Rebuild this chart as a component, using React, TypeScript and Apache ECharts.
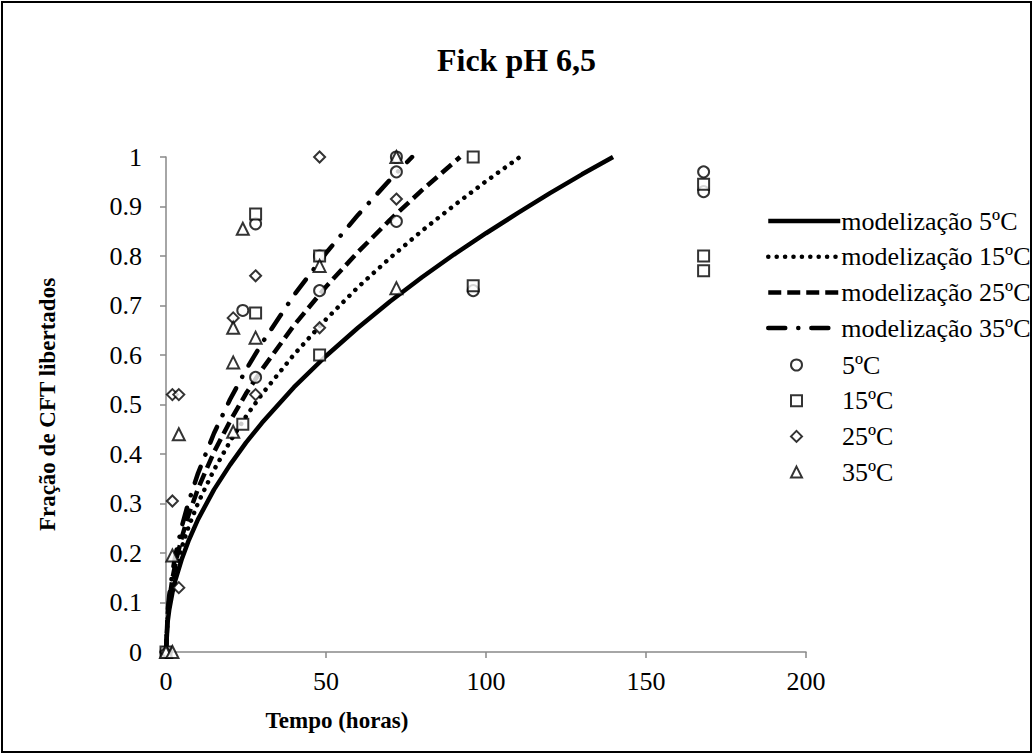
import React, { useEffect, useRef } from "react";
import * as echarts from "echarts";

// Model curves: time (h) and released fraction
const t5 = [0, 0.5, 1, 2, 3, 5, 7, 10, 15, 20, 25, 30, 40, 50, 60, 70, 80, 90, 100, 110, 120, 130, 139.7];
const m5 = [0, 0.06, 0.085, 0.12, 0.147, 0.189, 0.224, 0.268, 0.328, 0.378, 0.423, 0.463, 0.535, 0.598, 0.655, 0.708, 0.757, 0.803, 0.846, 0.887, 0.927, 0.965, 1.0];
const t15 = [0, 0.5, 1, 2, 3, 5, 7, 10, 15, 20, 25, 30, 40, 50, 60, 70, 80, 90, 100, 110.6];
const m15 = [0, 0.067, 0.095, 0.134, 0.165, 0.213, 0.252, 0.301, 0.368, 0.425, 0.476, 0.521, 0.601, 0.672, 0.737, 0.796, 0.851, 0.902, 0.951, 1.0];
const t25 = [0, 0.5, 1, 2, 3, 5, 7, 10, 15, 20, 25, 30, 40, 50, 60, 70, 80, 91.9];
const m25 = [0, 0.074, 0.104, 0.148, 0.181, 0.233, 0.276, 0.33, 0.404, 0.466, 0.522, 0.571, 0.66, 0.738, 0.808, 0.873, 0.933, 1.0];
const t35 = [0, 0.5, 1, 2, 3, 5, 7, 10, 15, 20, 25, 30, 40, 50, 60, 70, 76.9];
const m35 = [0, 0.081, 0.114, 0.161, 0.197, 0.255, 0.302, 0.361, 0.442, 0.51, 0.57, 0.624, 0.721, 0.806, 0.883, 0.954, 1.0];

// Experimental points
const x5 = [0, 24, 28, 28, 48, 48, 72, 72, 72, 96, 168, 168];
const y5 = [0, 0.69, 0.865, 0.555, 0.73, 0.8, 1.0, 0.97, 0.87, 0.73, 0.97, 0.93];
const x15 = [0, 24, 28, 28, 48, 48, 96, 96, 168, 168, 168];
const y15 = [0, 0.46, 0.885, 0.685, 0.8, 0.6, 1.0, 0.74, 0.945, 0.8, 0.77];
const x25 = [0, 2, 2, 4, 4, 21, 28, 28, 48, 48, 72];
const y25 = [0, 0.305, 0.52, 0.52, 0.13, 0.675, 0.76, 0.52, 1.0, 0.655, 0.915];
const x35 = [0, 2, 2, 4, 21, 21, 21, 24, 28, 48, 72, 72];
const y35 = [0, 0, 0.195, 0.44, 0.585, 0.655, 0.445, 0.855, 0.635, 0.78, 1.0, 0.735];

const modelNames = ["modelização 5ºC", "modelização 15ºC", "modelização 25ºC", "modelização 35ºC"];
const pointNames = ["5ºC", "15ºC", "25ºC", "35ºC"];
const xTicks = [0, 50, 100, 150, 200];

const FONT = "Liberation Serif";

const zip = (a: number[], b: number[]) => a.map((v, i) => [v, b[i]]);

export default function App() {
  const ref = useRef<HTMLDivElement>(null);
  useEffect(() => {
    if (!ref.current) return;
    const chart = echarts.init(ref.current, undefined, { renderer: "svg" });
    const lineStyles: any[] = [
      { color: "#000", width: 4.5, type: "solid", cap: "butt" },
      { color: "#000", width: 4.5, type: [0.1, 8.3], cap: "round" },
      { color: "#000", width: 4.5, type: [13, 6], cap: "butt" },
      { color: "#000", width: 4.5, type: [17, 13, 0.1, 13], cap: "round" },
    ];
    const modelData = [zip(t5, m5), zip(t15, m15), zip(t25, m25), zip(t35, m35)];
    const ptData = [zip(x5, y5), zip(x15, y15), zip(x25, y25), zip(x35, y35)];
    const symbols = ["emptyCircle", "emptyRect", "emptyDiamond", "emptyTriangle"];
    const sizes = [11, 11, 11, 12];
    const series: any[] = [];
    modelNames.forEach((n, i) => {
      series.push({
        name: n,
        type: "line",
        data: modelData[i],
        symbol: "none",
        smooth: false,
        lineStyle: lineStyles[i],
        itemStyle: { color: "#000", opacity: 0 },
        z: 3,
      });
    });
    pointNames.forEach((n, i) => {
      series.push({
        name: n,
        type: "scatter",
        data: ptData[i],
        symbol: symbols[i],
        symbolSize: sizes[i],
        itemStyle: { color: "#000", borderColor: "#000", borderWidth: 1.5 },
        z: 4,
      });
    });
    const legendText = { fontFamily: FONT, fontSize: 26, color: "#000", lineHeight: 26 };
    chart.setOption({
      animation: false,
      backgroundColor: "#fff",
      textStyle: { fontFamily: FONT, color: "#000" },
      title: {
        text: "Fick pH 6,5",
        left: "center",
        top: 39,
        textStyle: { fontFamily: FONT, fontSize: 32, fontWeight: "bold", color: "#000" },
      },
      grid: { left: 166, right: 227, top: 157, bottom: 103, containLabel: false },
      legend: [
        {
          orient: "vertical",
          left: 761,
          top: 203,
          itemWidth: 72,
          itemHeight: 9,
          itemGap: 9.7,
          data: modelNames.map((n, i) => ({
            name: n,
            itemStyle: { opacity: 0 },
            lineStyle: lineStyles[i],
          })),
          textStyle: { ...legendText, padding: [0, 0, 0, -4] },
        },
        {
          orient: "vertical",
          left: 785,
          top: 347,
          itemWidth: 11,
          itemHeight: 11,
          itemGap: 9.7,
          data: pointNames.map((n, i) => ({ name: n, icon: symbols[i] })),
          textStyle: { ...legendText, padding: [0, 0, 0, 35] },
        },
      ],
      xAxis: {
        type: "value",
        min: xTicks[0],
        max: xTicks[xTicks.length - 1],
        interval: 50,
        name: "Tempo (horas)",
        nameLocation: "middle",
        nameGap: 57,
        nameTextStyle: { fontFamily: FONT, fontSize: 23, fontWeight: "bold", color: "#000", padding: [0, 298, 0, 0] },
        axisLine: { lineStyle: { color: "#898989", width: 1.5 } },
        axisTick: { show: true, inside: false, length: 6, lineStyle: { color: "#898989", width: 1.5 } },
        axisLabel: { fontFamily: FONT, fontSize: 26, color: "#000", margin: 16 },
        splitLine: { show: false },
      },
      yAxis: {
        type: "value",
        min: 0,
        max: 1,
        interval: 0.1,
        name: "Fração de CFT libertados",
        nameLocation: "middle",
        nameGap: 107,
        nameTextStyle: { fontFamily: FONT, fontSize: 23, fontWeight: "bold", color: "#000" },
        axisLine: { show: true, lineStyle: { color: "#898989", width: 1.5 } },
        axisTick: { show: true, inside: false, length: 6, lineStyle: { color: "#898989", width: 1.5 } },
        axisLabel: {
          fontFamily: FONT,
          fontSize: 26,
          color: "#000",
          margin: 24,
          formatter: (v: number) => String(parseFloat(v.toFixed(1))),
        },
        splitLine: { show: false },
      },
      graphic: [
        {
          type: "rect",
          shape: { x: 2, y: 2, width: 1029, height: 750 },
          style: { fill: "none", stroke: "#000", lineWidth: 2 },
          silent: true,
          z: 100,
        },
      ],
      series,
    });
    return () => chart.dispose();
  }, []);
  return (
    <div
      ref={ref}
      style={{ position: "fixed", left: 0, top: 0, width: 1033, height: 755 }}
    />
  );
}
